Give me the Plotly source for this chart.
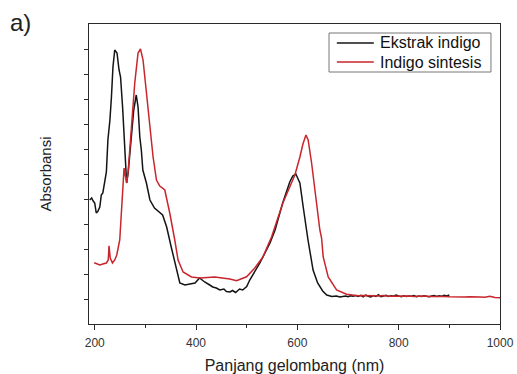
import plotly.graph_objects as go

# UV-Vis absorbance spectra (wavelength in nm, absorbance in arbitrary units)
ekstrak_nm = [190, 194, 197, 200, 203, 206, 210, 213, 216, 220, 223, 226, 230, 233,
              236, 239.5, 244, 248, 251, 255, 258, 261, 263, 266, 271, 277, 282,
              285.5, 289, 292, 295, 302, 309, 318, 334, 342, 351, 361, 368, 378,
              388, 398, 407, 417, 427, 433, 440, 447, 455, 460, 467, 472, 478,
              486, 492, 500, 506, 516, 526, 536, 546, 556, 571, 585, 591, 597,
              605, 611, 618, 621, 631, 640, 650, 658, 668, 677, 684, 690]
ekstrak_abs = [0.396, 0.404, 0.392, 0.384, 0.344, 0.350, 0.368, 0.416, 0.424, 0.464,
               0.508, 0.636, 0.716, 0.808, 0.928, 0.996, 0.984, 0.916, 0.888, 0.768,
               0.636, 0.528, 0.464, 0.504, 0.636, 0.756, 0.816, 0.768, 0.648, 0.596,
               0.516, 0.464, 0.396, 0.364, 0.336, 0.288, 0.208, 0.128, 0.064, 0.056,
               0.060, 0.064, 0.084, 0.068, 0.056, 0.048, 0.044, 0.036, 0.040, 0.030,
               0.028, 0.034, 0.026, 0.040, 0.036, 0.050, 0.076, 0.110, 0.144, 0.184,
               0.224, 0.276, 0.384, 0.468, 0.492, 0.500, 0.464, 0.376, 0.276, 0.236,
               0.116, 0.064, 0.032, 0.016, 0.010, 0.012, 0.008, 0.010]
ekstrak_tail_nm = list(range(695, 901, 5))
ekstrak_tail_abs = [0.012, 0.009, 0.013, 0.011, 0.014, 0.010, 0.015, 0.009, 0.016,
                    0.011, 0.008, 0.014, 0.010, 0.017, 0.009, 0.012, 0.015, 0.010,
                    0.013, 0.011, 0.016, 0.012, 0.009, 0.013, 0.010, 0.012, 0.011,
                    0.014, 0.009, 0.012, 0.010, 0.013, 0.011, 0.009, 0.012, 0.014,
                    0.010, 0.013, 0.011, 0.015, 0.012, 0.016]

sintesis_nm = [199, 204, 210, 216, 223, 226.7, 228.2, 230.6, 235, 239.5, 243.5,
               249.4, 254.7, 257.9, 260.2, 263.2, 266.2, 272.5, 279, 285.5, 290.3,
               295.4, 302.1, 308.6, 315.2, 321.9, 328.4, 338.3, 348.1, 358, 364.5,
               374.4, 391, 407.4, 437, 466.7, 480, 499.7, 516, 531.9, 549, 571.4,
               595.1, 605, 611, 617, 621.3, 628.1, 634.6, 641.1, 644.4, 647.8, 651,
               660.9, 677.4, 697.2]
sintesis_abs = [0.145, 0.140, 0.136, 0.140, 0.144, 0.156, 0.213, 0.164, 0.144, 0.156,
                0.176, 0.236, 0.396, 0.524, 0.496, 0.464, 0.516, 0.704, 0.864, 0.984,
                1.000, 0.956, 0.824, 0.688, 0.568, 0.476, 0.452, 0.436, 0.344, 0.236,
                0.156, 0.108, 0.088, 0.084, 0.088, 0.080, 0.073, 0.089, 0.124, 0.168,
                0.248, 0.384, 0.496, 0.568, 0.620, 0.656, 0.636, 0.544, 0.436, 0.328,
                0.276, 0.244, 0.168, 0.088, 0.036, 0.019]
sintesis_tail_nm = list(range(710, 1001, 10))
sintesis_tail_abs = [0.015, 0.013, 0.014, 0.012, 0.013, 0.012, 0.014, 0.011, 0.012,
                     0.013, 0.011, 0.012, 0.010, 0.011, 0.012, 0.010, 0.011, 0.009,
                     0.010, 0.009, 0.008, 0.009, 0.008, 0.009, 0.007, 0.008, 0.007,
                     0.011, 0.006, 0.005]

series_names = ["Ekstrak indigo", "Indigo sintesis"]
x_ticks = [200, 400, 600, 800, 1000]

BLACK = "#141414"
RED = "#c8262c"
AXIS = "#2a2a2a"
FONT = "Liberation Sans, Arial, sans-serif"
colors = [BLACK, RED]

fig = go.Figure()
fig.add_trace(go.Scatter(
    x=ekstrak_nm + ekstrak_tail_nm, y=ekstrak_abs + ekstrak_tail_abs,
    mode="lines", name=series_names[0],
    line=dict(color=colors[0], width=1.5)))
fig.add_trace(go.Scatter(
    x=sintesis_nm + sintesis_tail_nm, y=sintesis_abs + sintesis_tail_abs,
    mode="lines", name=series_names[1],
    line=dict(color=colors[1], width=1.5)))

fig.update_layout(
    width=517, height=374,
    margin=dict(l=89, r=17, t=24, b=50),
    paper_bgcolor="white", plot_bgcolor="white",
    font=dict(family=FONT, color="#222222"),
    showlegend=False,
    xaxis=dict(
        range=[188.7, 1000], showgrid=False, zeroline=False, automargin=False,
        tickvals=x_ticks, ticktext=[str(v) for v in x_ticks],
        ticks="outside", ticklen=5, tickwidth=1.2, tickcolor=AXIS,
        minor=dict(tickvals=[300, 500, 700, 900], ticks="outside",
                   ticklen=3, tickwidth=1.2, tickcolor=AXIS),
        showline=True, linecolor=AXIS, linewidth=1.3, mirror=True,
        tickfont=dict(size=12, family=FONT, color="#333333"),
        ticklabelstandoff=2,
        title=dict(text="Panjang gelombang (nm)",
                   font=dict(size=16, family=FONT, color="#222222"),
                   standoff=14),
    ),
    yaxis=dict(
        range=[-0.1, 1.1], showgrid=False, zeroline=False, automargin=False,
        tickvals=[i / 10 for i in range(0, 11)], showticklabels=False,
        ticks="outside", ticklen=4, tickwidth=1.2, tickcolor=AXIS,
        showline=True, linecolor=AXIS, linewidth=1.3, mirror=True,
        title=dict(text="Absorbansi",
                   font=dict(size=15, family=FONT, color="#222222"),
                   standoff=28),
    ),
)

# Compact legend box in the upper-right corner of the plot area
box_x0, box_x1, box_y0, box_y1 = 0.584, 0.978, 0.84, 0.97
fig.add_shape(type="rect", xref="paper", yref="paper",
              x0=box_x0, x1=box_x1, y0=box_y0, y1=box_y1,
              line=dict(color="#777777", width=1), fillcolor="white", layer="above")
row_y = [0.937, 0.873]
for name, color, ry in zip(series_names, colors, row_y):
    fig.add_shape(type="line", xref="paper", yref="paper",
                  x0=0.603, x1=0.693, y0=ry, y1=ry,
                  line=dict(color=color, width=1.5), layer="above")
    fig.add_annotation(text=name, xref="paper", yref="paper",
                       x=0.704, y=ry, xanchor="left", yanchor="middle",
                       showarrow=False,
                       font=dict(size=16, family=FONT, color="#111111"))

fig.add_annotation(
    text="a)", xref="paper", yref="paper", x=-0.197, y=1.005,
    xanchor="left", yanchor="middle", showarrow=False,
    font=dict(size=24, family=FONT, color="#222222"))

fig.write_html("out.html")
